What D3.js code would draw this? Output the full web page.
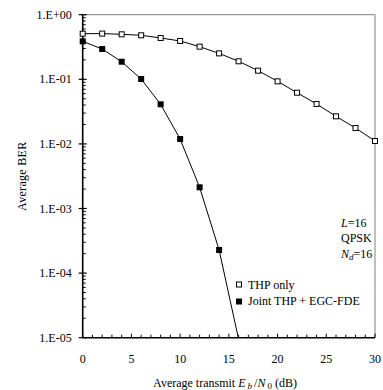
<!DOCTYPE html>
<html><head><meta charset="utf-8">
<script src="https://cdn.jsdelivr.net/npm/d3@7"></script>
<style>
html,body{margin:0;padding:0;background:#fff;}
svg, svg text{font-family:"Liberation Serif","Times New Roman","DejaVu Serif",serif !important;fill:#000;}
</style></head>
<body>
<svg id="c" width="383" height="390" font-family="Liberation Serif, Times New Roman, serif"></svg>
<script>
const snrDb = [0,2,4,6,8,10,12,14,16,18,20,22,24,26,28,30];
const berThpOnly = [0.508,0.51,0.497,0.48,0.436,0.392,0.32,0.252,0.19,0.136,0.093,0.062,0.0415,0.0267,0.0176,0.0111];
const snrDbJoint = [0,2,4,6,8,10,12,14,16];
const berJoint = [0.387,0.294,0.187,0.101,0.041,0.0119,0.00213,0.000228,0.0000095];
const yTickLabels = ["1.E+00","1.E-01","1.E-02","1.E-03","1.E-04","1.E-05"];
const yTickValues = [1,1e-1,1e-2,1e-3,1e-4,1e-5];
const xTickLabels = [0,5,10,15,20,25,30];
const legendLabels = ["THP only","Joint THP + EGC-FDE"];

const L=82.7, R=375, T=14.7, B=337.7;
const svg = d3.select("#c");
const x = d3.scaleLinear().domain([0,30]).range([L,R]);
const y = d3.scaleLog().domain([1e-5,1]).range([B,T]);

svg.append("path").attr("d",`M${L},${T}H${R}V${B}`).attr("fill","none").attr("stroke","#808080").attr("stroke-width",1);

const yAxis = svg.append("g");
yAxis.append("line").attr("x1",L).attr("x2",L).attr("y1",T).attr("y2",B).attr("stroke","#000").attr("stroke-width",1.6);
const minor=[];
for(let e=-5;e<0;e++) for(let m=2;m<=9;m++) minor.push(m*Math.pow(10,e));
yAxis.selectAll(".ymin").data(minor).enter().append("line")
  .attr("x1",L).attr("x2",L+3).attr("y1",d=>y(d)).attr("y2",d=>y(d)).attr("stroke","#000").attr("stroke-width",1);
yAxis.selectAll(".ymaj").data(yTickValues).enter().append("line")
  .attr("x1",L-4).attr("x2",L+4).attr("y1",d=>y(d)).attr("y2",d=>y(d)).attr("stroke","#000").attr("stroke-width",1.2);
yAxis.selectAll(".ylab").data(yTickValues).enter().append("text")
  .attr("x",L-11).attr("y",d=>y(d)+4).attr("text-anchor","end").attr("font-size",12).text((d,i)=>yTickLabels[i]);

const xAxis = svg.append("g");
xAxis.append("line").attr("x1",L).attr("x2",R).attr("y1",B).attr("y2",B).attr("stroke","#000").attr("stroke-width",1.6);
xAxis.selectAll(".xt").data(d3.range(0,31)).enter().append("line")
  .attr("x1",d=>x(d)).attr("x2",d=>x(d)).attr("y1",B).attr("y2",d=>B-(d%5===0?4:3)).attr("stroke","#000").attr("stroke-width",1);
xAxis.selectAll(".xl").data(xTickLabels).enter().append("text")
  .attr("x",d=>x(d)).attr("y",363).attr("text-anchor","middle").attr("font-size",12).text(d=>d);

svg.append("text").attr("transform",`translate(26,${(T+B)/2}) rotate(-90)`).attr("text-anchor","middle").attr("font-size",12).attr("letter-spacing",0.3).text("Average  BER");
const xt = svg.append("text").attr("x",225).attr("y",387).attr("text-anchor","middle").attr("font-size",12);
xt.append("tspan").text("Average transmit ");
xt.append("tspan").attr("font-style","italic").text("E");
xt.append("tspan").attr("font-size",9).attr("font-style","italic").attr("dx",2).attr("dy",2).text("b");
xt.append("tspan").attr("dx",2).attr("dy",-2).text("/");
xt.append("tspan").attr("font-style","italic").text("N");
xt.append("tspan").attr("font-size",9).attr("dx",2).attr("dy",2).text("0");
xt.append("tspan").attr("dx",3).attr("dy",-2).text("(dB)");

svg.append("clipPath").attr("id","pc").append("rect").attr("x",L).attr("y",T-5).attr("width",R-L+5).attr("height",B-T+5);

const line = d3.line().x(d=>x(d[0])).y(d=>y(d[1]));
const thp = snrDb.map((d,i)=>[d,berThpOnly[i]]);
const joint = snrDbJoint.map((d,i)=>[d,berJoint[i]]);
const g = svg.append("g").attr("clip-path","url(#pc)");
g.append("path").attr("d",line(thp)).attr("fill","none").attr("stroke","#000").attr("stroke-width",1);
g.append("path").attr("d",line(joint)).attr("fill","none").attr("stroke","#000").attr("stroke-width",1);
svg.selectAll(".mo").data(thp).enter().append("rect")
  .attr("x",d=>x(d[0])-2.5).attr("y",d=>y(d[1])-2.5).attr("width",5).attr("height",5)
  .attr("fill","#fff").attr("stroke","#000").attr("stroke-width",1);
svg.selectAll(".mf").data(joint.filter(d=>d[1]>=1e-5)).enter().append("rect")
  .attr("x",d=>x(d[0])-3).attr("y",d=>y(d[1])-3).attr("width",6).attr("height",6)
  .attr("fill","#000");

const lg = svg.append("g");
lg.append("rect").attr("x",236.5).attr("y",282).attr("width",5).attr("height",5).attr("fill","#fff").attr("stroke","#000");
lg.append("rect").attr("x",236).attr("y",298.5).attr("width",6).attr("height",6).attr("fill","#000");
lg.append("text").attr("x",248).attr("y",288.5).attr("font-size",12).text(legendLabels[0]);
lg.append("text").attr("x",248).attr("y",305).attr("font-size",12).text(legendLabels[1]);

const an = svg.append("g").attr("font-size",12);
const t1 = an.append("text").attr("x",341).attr("y",226.5);
t1.append("tspan").attr("font-style","italic").text("L");
t1.append("tspan").text("=16");
an.append("text").attr("x",341).attr("y",242).text("QPSK");
const t3 = an.append("text").attr("x",341).attr("y",257.5);
t3.append("tspan").attr("font-style","italic").text("N");
t3.append("tspan").attr("font-style","italic").attr("font-size",9).attr("dy",2).text("d");
t3.append("tspan").attr("dy",-2).text("=16");
</script>
</body></html>
